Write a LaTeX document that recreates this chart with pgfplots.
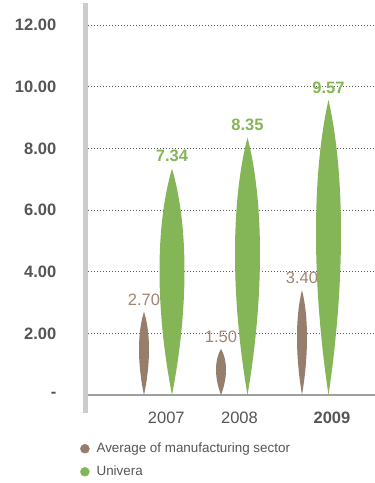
\documentclass[border=0pt]{standalone}
\usepackage{pgfplots}
\pgfplotsset{compat=1.18}
\usepackage{fontspec}
\setmainfont{Liberation Sans}
\definecolor{brownc}{RGB}{150,125,108}
\definecolor{brownt}{RGB}{160,132,114}
\definecolor{greenc}{RGB}{132,182,88}
\definecolor{textg}{RGB}{85,85,85}
\definecolor{barg}{RGB}{204,204,204}
\newcommand\yunit{30.8333}
\pgfdeclareplotmark{lens}{%
  \pgfmathsetmacro\lensh{\lensval*\yunit}%
  \pgfpathmoveto{\pgfqpoint{0pt}{0pt}}%
  \pgfpathcurveto{\pgfpoint{1.333*\pgfplotmarksize}{-0.25*\lensh pt}}{\pgfpoint{1.333*\pgfplotmarksize}{-0.62*\lensh pt}}{\pgfpoint{0pt}{-\lensh pt}}%
  \pgfpathcurveto{\pgfpoint{-1.333*\pgfplotmarksize}{-0.62*\lensh pt}}{\pgfpoint{-1.333*\pgfplotmarksize}{-0.25*\lensh pt}}{\pgfqpoint{0pt}{0pt}}%
  \pgfpathclose
  \pgfusepathqfill
}
\begin{document}
\begin{tikzpicture}
\begin{axis}[
  name=ax, at={(0,0)}, anchor=south west,
  scale only axis, width=289.5pt, height=410pt,
  xmin=85.5, xmax=375, ymin=-0.5838, ymax=12.7135,
  axis lines*=left,
  x axis line style={draw=none},
  y axis line style={draw=barg, line width=5pt},
  major tick length=0pt,
  ytick={0,2,4,6,8,10,12},
  yticklabels={-,2.00,4.00,6.00,8.00,10.00,12.00},
  yticklabel style={anchor=east, xshift=-25.7pt, font=\fontsize{16.5}{18}\selectfont\bfseries, text=textg},
  xtick={166.3,239.5,332},
  xticklabels={2007,2008,\textbf{2009}},
  xticklabel style={anchor=base, yshift=-10pt, font=\fontsize{16.5}{18}\selectfont, text=textg},
  ymajorgrids,
  grid style={draw=textg, line width=0.9pt, dash pattern=on 0.9pt off 2.1pt},
  clip=false,
  /pgf/number format/assume math mode=true,
  legend cell align=left,
  legend style={at={(-0.019,-0.066)}, anchor=north west, draw=none, fill=none,
    font=\fontsize{13.4}{16}\selectfont, text=textg, inner sep=0pt, row sep=6pt,
    nodes={inner sep=2pt, text height=10pt, text depth=3pt},
    /tikz/every odd column/.append style={column sep=5pt}},
]
\draw[draw=gray!75, line width=1.3pt] (axis cs:88,0) -- (axis cs:375,0);
\addplot[scatter, only marks, mark=lens, mark size=5pt, color=brownc,
  mark options={fill=brownc, draw=none},
  scatter/@pre marker code/.code={},
  scatter/@post marker code/.code={},
  visualization depends on={rawy \as \lensval},
  point meta=y,
  nodes near coords={\pgfmathprintnumber[fixed,fixed zerofill,precision=2]{\pgfplotspointmeta}},
  every node near coord/.append style={font=\fontsize{16.5}{18}\selectfont, text=brownt, anchor=south, yshift=3pt},
  legend image code/.code={\fill[brownc] (0pt,0pt) circle (4.5pt);}
] coordinates {(144,2.70) (221,1.50) (302,3.40)};
\addlegendentry{Average of manufacturing sector}
\addplot[scatter, only marks, mark=lens, mark size=12.5pt, color=greenc,
  mark options={fill=greenc, draw=none},
  scatter/@pre marker code/.code={},
  scatter/@post marker code/.code={},
  visualization depends on={rawy \as \lensval},
  point meta=y,
  nodes near coords={\pgfmathprintnumber[fixed,fixed zerofill,precision=2]{\pgfplotspointmeta}},
  every node near coord/.append style={font=\fontsize{16.5}{18}\selectfont\bfseries, text=greenc, anchor=south, yshift=3pt},
  legend image code/.code={\fill[greenc] (0pt,0pt) circle (4.5pt);}
] coordinates {(172,7.34) (247.5,8.35) (328.5,9.57)};
\addlegendentry{Univera}
\end{axis}
\pgfresetboundingbox
\path[use as bounding box] (-85.5pt,-70pt) rectangle (289.5pt,413pt);
\end{tikzpicture}
\end{document}
